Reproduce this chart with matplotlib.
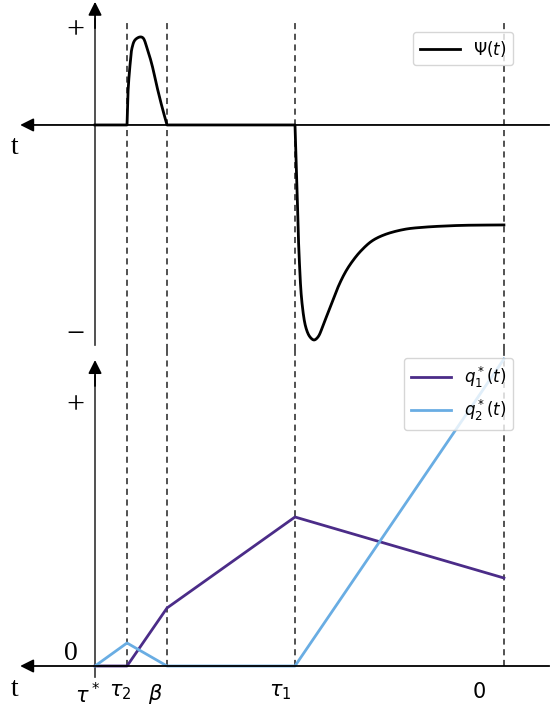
import matplotlib
matplotlib.use("Agg")
import matplotlib.pyplot as plt
import numpy as np

# time marks (tau*, tau2, beta, tau1, 0)
t_marks = [0.0, 1.0, 2.25, 6.25, 12.78]
tick_pos = [-0.22, 0.78, 1.9, 5.78, 12.0]
tick_labels = [r"$\tau^*$", r"$\tau_2$", r"$\beta$", r"$\tau_1$", r"$0$"]

# Psi(t): bump between tau2 and beta, dip after tau1
bump_t = [1.0, 1.031, 1.094, 1.156, 1.25, 1.406, 1.5, 1.625, 1.781, 1.938, 2.094, 2.25]
bump_psi = [0.0, 0.375, 0.682, 0.875, 0.966, 1.0, 0.989, 0.875, 0.682, 0.432, 0.205, 0.0]
dip_t = [6.25, 6.3125, 6.375, 6.469, 6.594, 6.719, 6.844, 6.969, 7.156, 7.375, 7.625, 7.844,
         8.0625, 8.3125, 8.656, 9.0625, 9.6875, 10.3125, 10.9375, 11.5625, 12.78]
dip_psi = [0.0, -0.705, -1.455, -2.023, -2.307, -2.409, -2.443, -2.409, -2.25, -2.045, -1.818,
           -1.66, -1.54, -1.43, -1.318, -1.245, -1.185, -1.161, -1.148, -1.14, -1.136]

# q1*(t), q2*(t)
q1 = [0.0, 0.0, 0.58, 1.49, 0.88]
q2 = [0.0, 0.23, 0.0, 0.0, 3.07]

c_q1 = "#4b2c88"
c_q2 = "#69ade3"
serif = "Liberation Serif"


def smooth(xs, ys, sx=32.0, sy=88.0, n=20):
    # centripetal catmull-rom through the read points (scaled to screen units)
    p = np.column_stack([np.asarray(xs) * sx, np.asarray(ys) * sy])
    p = np.vstack([2 * p[0] - p[1], p, 2 * p[-1] - p[-2]])
    out = []
    for i in range(1, len(p) - 2):
        p0, p1, p2, p3 = p[i - 1], p[i], p[i + 1], p[i + 2]
        t0 = 0.0
        t1 = t0 + np.linalg.norm(p1 - p0) ** 0.5
        t2 = t1 + np.linalg.norm(p2 - p1) ** 0.5
        t3 = t2 + np.linalg.norm(p3 - p2) ** 0.5
        tt = np.linspace(t1, t2, n)[:, None]
        a1 = (t1 - tt) / (t1 - t0) * p0 + (tt - t0) / (t1 - t0) * p1
        a2 = (t2 - tt) / (t2 - t1) * p1 + (tt - t1) / (t2 - t1) * p2
        a3 = (t3 - tt) / (t3 - t2) * p2 + (tt - t2) / (t3 - t2) * p3
        b1 = (t2 - tt) / (t2 - t0) * a1 + (tt - t0) / (t2 - t0) * a2
        b2 = (t3 - tt) / (t3 - t1) * a2 + (tt - t1) / (t3 - t1) * a3
        c = (t2 - tt) / (t2 - t1) * b1 + (tt - t1) / (t2 - t1) * b2
        out.append(c)
    c = np.vstack(out)
    return c[:, 0] / sx, c[:, 1] / sy


bx, by = smooth(bump_t, bump_psi)
dx, dy = smooth(dip_t, dip_psi)
psi_x = np.concatenate([[t_marks[0]], bx, dx])
psi_y = np.concatenate([[0.0], by, dy])

fig = plt.figure(figsize=(5.5, 7.11), dpi=100)
ax1 = fig.add_axes([0, 1 - 350 / 711, 1, 350 / 711])
ax2 = fig.add_axes([0, 0, 1, 361 / 711])

xl = (-2.97, 14.22)
arrow = dict(arrowstyle="-|>", color="black", lw=1.3, mutation_scale=20, shrinkA=0, shrinkB=0)

# --- top: Psi ---
ax1.set_xlim(*xl)
ax1.set_ylim(-2.557, 1.42)
ax1.annotate("", xy=(-2.34, 0), xytext=(14.2, 0), arrowprops=arrow)
ax1.plot([0, 0], [-2.5, 1.2], color="#333333", lw=1.2)
ax1.annotate("", xy=(0, 1.40), xytext=(0, 1.1), arrowprops=arrow)
ax1.vlines(t_marks[1:], -2.557, 1.17, colors="#222222", linestyles=(0, (4, 3)), lw=1.1)
ax1.plot(psi_x, psi_y, color="black", lw=2, label=r"$\Psi(t)$")
ax1.text(-2.5, -0.26, "t", fontsize=20, family=serif, ha="center", va="center")
ax1.text(-0.625, 1.07, "+", fontsize=23, family=serif, ha="center", va="center")
ax1.text(-0.625, -2.39, "\u2212", fontsize=23, family=serif, ha="center", va="center")
ax1.legend(loc="upper right", bbox_to_anchor=(513 / 550, 1 - 32 / 711),
           bbox_transform=fig.transFigure, borderaxespad=0, fontsize=12, handlelength=2.4)
ax1.axis("off")

# --- bottom: q1*, q2* ---
ax2.set_xlim(*xl)
ax2.set_ylim(-0.45, 3.16)
ax2.annotate("", xy=(-2.34, 0), xytext=(14.2, 0), arrowprops=arrow)
ax2.plot([0, 0], [-0.11, 2.9], color="#333333", lw=1.2)
ax2.annotate("", xy=(0, 3.06), xytext=(0, 2.8), arrowprops=arrow)
ax2.vlines(t_marks[1:], 0, 3.16, colors="#222222", linestyles=(0, (4, 3)), lw=1.1)
ax2.plot(t_marks, q1, color=c_q1, lw=2, label=r"$q_1^*(t)$")
ax2.plot(t_marks, q2, color=c_q2, lw=2, label=r"$q_2^*(t)$")
ax2.text(-2.5, -0.24, "t", fontsize=20, family=serif, ha="center", va="center")
ax2.text(-0.625, 2.6, "+", fontsize=23, family=serif, ha="center", va="center")
ax2.text(-0.75, 0.13, "0", fontsize=20, family=serif, ha="center", va="center")
for xp, lab in zip(tick_pos, tick_labels):
    ax2.text(xp, -0.16, lab, fontsize=15, ha="center", va="top")
ax2.legend(loc="upper right", bbox_to_anchor=(513 / 550, 1 - 358 / 711),
           bbox_transform=fig.transFigure, borderaxespad=0, fontsize=12, handlelength=2.4)
ax2.axis("off")

fig.savefig("out.png", dpi=100)
